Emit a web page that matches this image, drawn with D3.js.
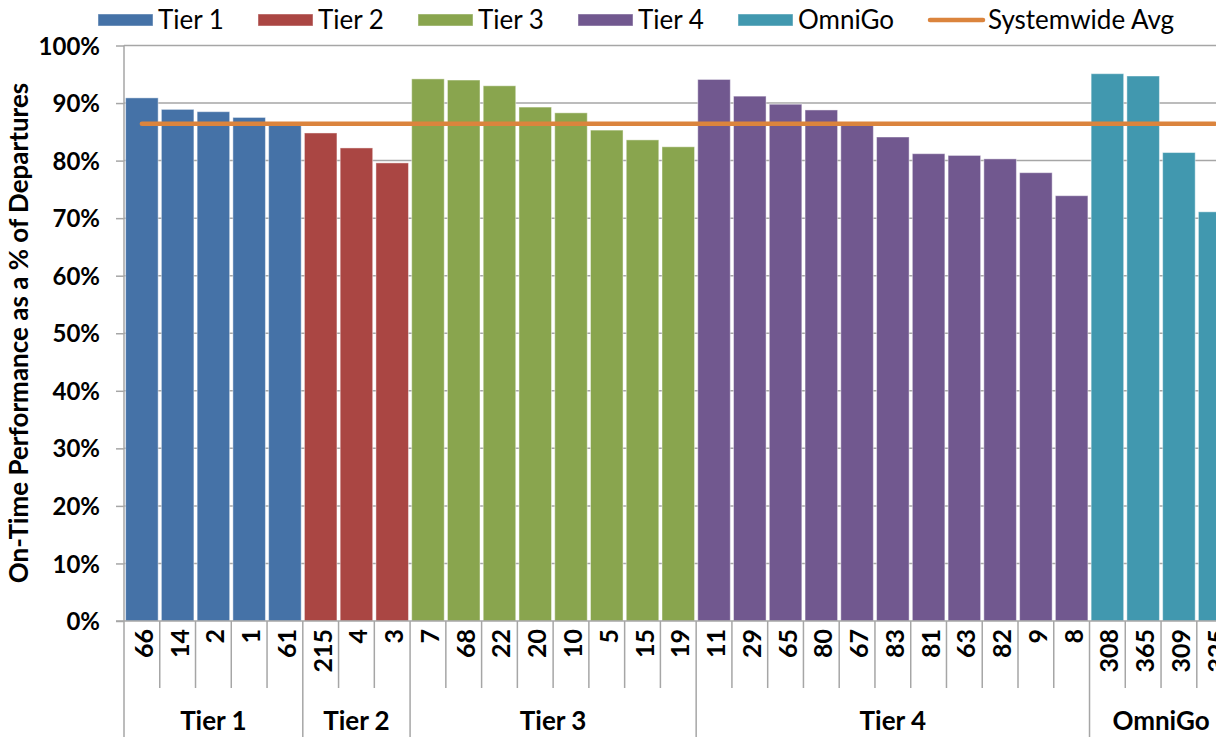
<!DOCTYPE html>
<html>
<head>
<meta charset="utf-8">
<script src="https://cdn.jsdelivr.net/npm/d3@7"></script>
<style>
  html, body { margin: 0; padding: 0; background: #fff; overflow: hidden; }
  svg { display: block; }
  text { font-family: Lato, "Open Sans", sans-serif; fill: #000; }
</style>
</head>
<body>
<svg id="chart" width="1240" height="737"></svg>
<script>
// Route numbers grouped by service tier
const tierNames = ["Tier 1", "Tier 2", "Tier 3", "Tier 4", "OmniGo"];
const tierRoutes = [
  ["66", "14", "2", "1", "61"],
  ["215", "4", "3"],
  ["7", "68", "22", "20", "10", "5", "15", "19"],
  ["11", "29", "65", "80", "67", "83", "81", "63", "82", "9", "8"],
  ["308", "365", "309", "325"]
];
// On-time performance (% of departures) per route, same order as above
const tier1Values = [90.9, 88.9, 88.5, 87.5, 86.3];
const tier2Values = [84.8, 82.2, 79.6];
const tier3Values = [94.2, 94.0, 93.0, 89.3, 88.3, 85.3, 83.6, 82.4];
const tier4Values = [94.1, 91.2, 89.8, 88.8, 86.3, 84.1, 81.2, 80.9, 80.3, 77.9, 73.9];
const omniGoValues = [95.1, 94.7, 81.4, 71.1];
const systemwideAvg = 86.4;
const yTicks = [0, 10, 20, 30, 40, 50, 60, 70, 80, 90, 100];
const tierColors = ["#4572A7", "#AA4643", "#89A54E", "#71588F", "#4198AF"];
const avgColor = "#DB843D";

const tierValues = [tier1Values, tier2Values, tier3Values, tier4Values, omniGoValues];
const rows = [];
tierNames.forEach((t, gi) => {
  tierRoutes[gi].forEach((r, i) => {
    rows.push({ tier: t, gi, route: r, value: tierValues[gi][i], idx: rows.length });
  });
});

const svg = d3.select("#chart");
const plotLeft = 124, plotTop = 45.5, plotBottom = 621;
const step = 35.76;
const plotRight = plotLeft + rows.length * step;

const x = d3.scaleBand()
  .domain(rows.map(d => d.idx))
  .range([plotLeft, plotRight])
  .paddingInner(0.09)
  .paddingOuter(0.045);
const y = d3.scaleLinear().domain([0, 100]).range([plotBottom, plotTop]);

// Gridlines and y ticks
const yAxis = d3.axisLeft(y).tickValues(yTicks).tickSize(8).tickFormat(d => d + "%");
const gy = svg.append("g").attr("transform", `translate(${plotLeft},0)`).call(yAxis);
gy.select(".domain").remove();
gy.selectAll(".tick line").attr("stroke", "#a6a6a6").attr("stroke-width", 1.5);
gy.selectAll(".tick text")
  .attr("x", -24)
  .attr("dy", "0.36em")
  .attr("fill", "#000")
  .style("font-size", "24px")
  .style("font-weight", "bold");

svg.append("g").selectAll("line").data(yTicks.filter(t => t > 0)).join("line")
  .attr("x1", plotLeft).attr("x2", plotRight)
  .attr("y1", d => y(d)).attr("y2", d => y(d))
  .attr("stroke", "#a6a6a6").attr("stroke-width", 1.5);

// Bars
svg.append("g").selectAll("rect").data(rows).join("rect")
  .attr("x", d => x(d.idx))
  .attr("width", x.bandwidth())
  .attr("y", d => y(d.value))
  .attr("height", d => y(0) - y(d.value))
  .attr("fill", d => tierColors[d.gi])
  .attr("stroke", "rgba(255,255,255,0.45)")
  .attr("stroke-width", 1);

// Systemwide average line across all routes
const first = rows[0].idx, last = rows[rows.length - 1].idx;
svg.append("line")
  .attr("x1", x(first) + x.bandwidth() / 2)
  .attr("x2", x(last) + x.bandwidth() / 2)
  .attr("y1", y(systemwideAvg)).attr("y2", y(systemwideAvg))
  .attr("stroke", avgColor).attr("stroke-width", 4.5).attr("stroke-linecap", "round");

// Axis lines
svg.append("line").attr("x1", plotLeft - 8).attr("x2", plotRight)
  .attr("y1", plotBottom).attr("y2", plotBottom)
  .attr("stroke", "#a6a6a6").attr("stroke-width", 1.5);
svg.append("line").attr("x1", plotLeft).attr("x2", plotLeft)
  .attr("y1", plotTop).attr("y2", 737)
  .attr("stroke", "#a6a6a6").attr("stroke-width", 1.5);

// Route separators and group separators below the axis
const boundaries = [];
let acc = 0;
tierRoutes.forEach(g => { acc += g.length; boundaries.push(acc); });
const edgeX = i => plotLeft + i * step;
const cats = d3.range(1, rows.length);
svg.append("g").selectAll("line").data(cats).join("line")
  .attr("x1", i => edgeX(i)).attr("x2", i => edgeX(i))
  .attr("y1", plotBottom)
  .attr("y2", i => boundaries.includes(i) ? 737 : 688)
  .attr("stroke", "#a6a6a6").attr("stroke-width", 1.5);

// Route labels (rotated)
svg.append("g").selectAll("text").data(rows).join("text")
  .attr("transform", d => `translate(${x(d.idx) + x.bandwidth() / 2 + 11},629) rotate(-90)`)
  .attr("text-anchor", "end")
  .style("font-size", "25px")
  .style("font-weight", "bold")
  .text(d => d.route);

// Tier labels
let start = 0;
tierNames.forEach((t, gi) => {
  const n = tierRoutes[gi].length;
  const cx = edgeX(start + n / 2);
  svg.append("text")
    .attr("x", cx).attr("y", 730)
    .attr("text-anchor", "middle")
    .style("font-size", "26px")
    .style("font-weight", "bold")
    .text(t);
  start += n;
});

// Y-axis title
svg.append("text")
  .attr("transform", "translate(28,333) rotate(-90)")
  .attr("text-anchor", "middle")
  .style("font-size", "26px")
  .style("font-weight", "bold")
  .text("On-Time Performance as a % of Departures");

// Legend
const legendItems = [
  { label: "Tier 1", color: tierColors[0], x: 98, type: "rect" },
  { label: "Tier 2", color: tierColors[1], x: 258, type: "rect" },
  { label: "Tier 3", color: tierColors[2], x: 418, type: "rect" },
  { label: "Tier 4", color: tierColors[3], x: 578, type: "rect" },
  { label: "OmniGo", color: tierColors[4], x: 738, type: "rect" },
  { label: "Systemwide Avg", color: avgColor, x: 928, type: "line" }
];
const lg = svg.append("g");
legendItems.forEach(it => {
  if (it.type === "rect") {
    lg.append("rect").attr("x", it.x).attr("y", 14).attr("width", 55).attr("height", 12)
      .attr("fill", it.color).attr("stroke", "rgba(255,255,255,0.45)");
  } else {
    lg.append("line").attr("x1", it.x + 2).attr("x2", it.x + 55).attr("y1", 20).attr("y2", 20)
      .attr("stroke", it.color).attr("stroke-width", 4.5).attr("stroke-linecap", "round");
  }
  lg.append("text").attr("x", it.x + 60).attr("y", 29)
    .style("font-size", "26px")
    .text(it.label);
});
</script>
</body>
</html>
